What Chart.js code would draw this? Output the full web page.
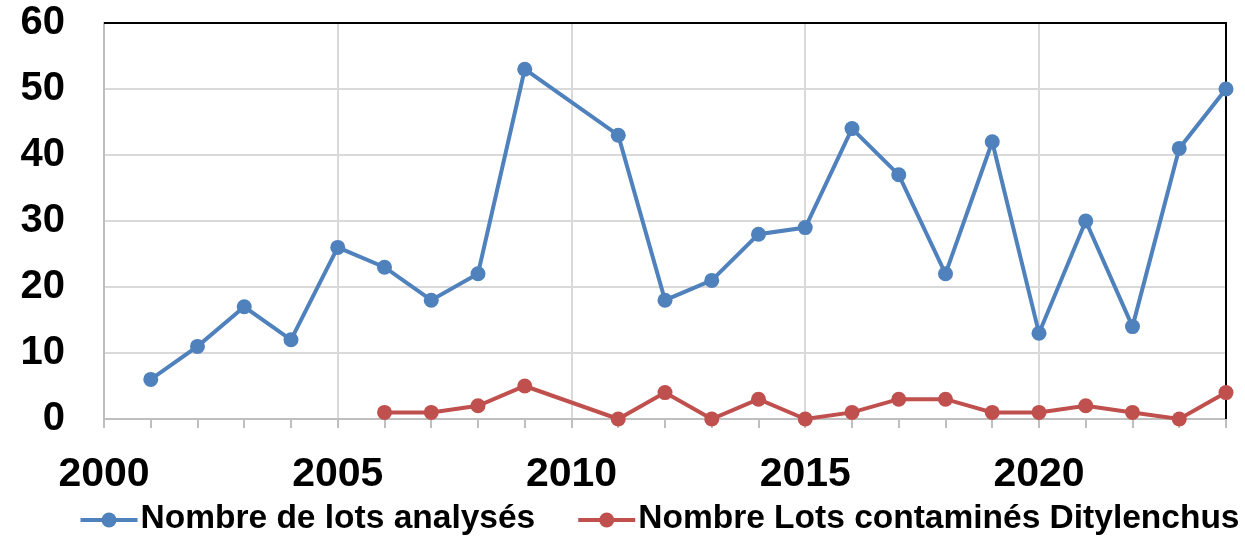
<!DOCTYPE html>
<html>
<head>
<meta charset="utf-8">
<script src="https://cdn.jsdelivr.net/npm/chart.js@4"></script>
<style>
  html, body { margin: 0; padding: 0; background: #fff; }
  #wrap { width: 1245px; height: 538px; }
</style>
</head>
<body>
<div id="wrap"><canvas id="chart" width="1245" height="538"></canvas></div>
<script>
// valeurs
var years = [2001, 2002, 2003, 2004, 2005, 2006, 2007, 2008, 2009, 2010, 2011, 2012,
             2013, 2014, 2015, 2016, 2017, 2018, 2019, 2020, 2021, 2022, 2023, 2024];
var lotsAnalyses = [6, 11, 17, 12, 26, 23, 18, 22, 53, null, 43, 18,
                    21, 28, 29, 44, 37, 22, 42, 13, 30, 14, 41, 50];
var lotsContamines = [null, null, null, null, null, 1, 1, 2, 5, null, 0, 4,
                      0, 3, 0, 1, 3, 3, 1, 1, 2, 1, 0, 4];
var seriesNames = ['Nombre de lots analysés', 'Nombre Lots contaminés Ditylenchus'];
var seriesColors = ['#4f81bd', '#c0504d'];

var FONT = '"Liberation Sans", Arial, sans-serif';

function toPoints(values) {
    return years.map((y, i) => ({x: y, y: values[i]}));
}

// cadre noir en haut et à droite
var frame = {
    id: 'frame',
    beforeDatasetsDraw(chart) {
        var a = chart.chartArea, ctx = chart.ctx;
        ctx.save();
        ctx.strokeStyle = '#000';
        ctx.lineWidth = 2;
        ctx.beginPath();
        ctx.moveTo(a.left, a.top);
        ctx.lineTo(a.right, a.top);
        ctx.lineTo(a.right, a.bottom);
        ctx.stroke();
        ctx.restore();
    }
};

// légende sur une seule ligne, comme dans Excel
var bottomLegend = {
    id: 'bottomLegend',
    afterDraw(chart) {
        var ctx = chart.ctx;
        var y = 520, marker = 57, gapText = 3, gapItem = 43;
        ctx.save();
        ctx.font = 'bold 33.5px ' + FONT;
        ctx.textBaseline = 'middle';
        var widths = chart.data.datasets.map(ds => ctx.measureText(ds.label).width);
        var total = widths.reduce((s, w) => s + marker + gapText + w, 0) + gapItem * (widths.length - 1);
        var x = 660 - total / 2;
        chart.data.datasets.forEach((ds, i) => {
            ctx.strokeStyle = ds.borderColor;
            ctx.lineWidth = 4;
            ctx.beginPath();
            ctx.moveTo(x, y);
            ctx.lineTo(x + marker, y);
            ctx.stroke();
            ctx.fillStyle = ds.borderColor;
            ctx.beginPath();
            ctx.arc(x + marker / 2, y, 7.5, 0, Math.PI * 2);
            ctx.fill();
            x += marker + gapText;
            ctx.fillStyle = '#000';
            ctx.fillText(ds.label, x, y - 1);
            x += widths[i] + gapItem;
        });
        ctx.restore();
    }
};

var data = {
    datasets: [0, 1].map(i => ({
        label: seriesNames[i],
        data: toPoints(i === 0 ? lotsAnalyses : lotsContamines),
        borderColor: seriesColors[i],
        backgroundColor: seriesColors[i],
        borderWidth: 4,
        pointRadius: 7.5,
        pointHoverRadius: 7.5,
        pointBorderWidth: 0,
        spanGaps: true,
        clip: false
    }))
};

var options = {
    responsive: false,
    animation: false,
    layout: { padding: { left: 18, right: 19, top: 0, bottom: 36 } },
    scales: {
        x: {
            type: 'linear',
            min: 2000,
            max: 2024,
            afterFit: s => { s.height = 83; s.paddingLeft = 0; s.paddingRight = 0; },
            border: { color: '#bfbfbf', width: 2 },
            grid: {
                color: c => (c.tick && c.tick.value % 5 === 0) ? '#d9d9d9' : 'rgba(0,0,0,0)',
                lineWidth: 2,
                tickColor: '#bfbfbf',
                tickLength: 9
            },
            ticks: {
                stepSize: 1,
                autoSkip: false,
                maxRotation: 0,
                padding: 22,
                color: '#000',
                font: { family: FONT, size: 41, weight: 'bold' },
                callback: v => v % 5 === 0 ? String(v) : ''
            }
        },
        y: {
            min: 0,
            max: 60,
            afterFit: s => { s.width = 86; s.paddingTop = 23; s.paddingBottom = 0; },
            border: { color: '#bfbfbf', width: 2 },
            grid: { color: '#d9d9d9', lineWidth: 2, drawTicks: false },
            ticks: {
                stepSize: 10,
                autoSkip: false,
                padding: 39,
                color: '#000',
                font: { family: FONT, size: 40, weight: 'bold' }
            }
        }
    },
    plugins: {
        tooltip: { enabled: false },
        legend: { display: false }
    }
};

var ctx = document.getElementById('chart').getContext('2d');
new Chart(ctx, { type: 'line', data, options, plugins: [frame, bottomLegend] });
</script>
</body>
</html>
